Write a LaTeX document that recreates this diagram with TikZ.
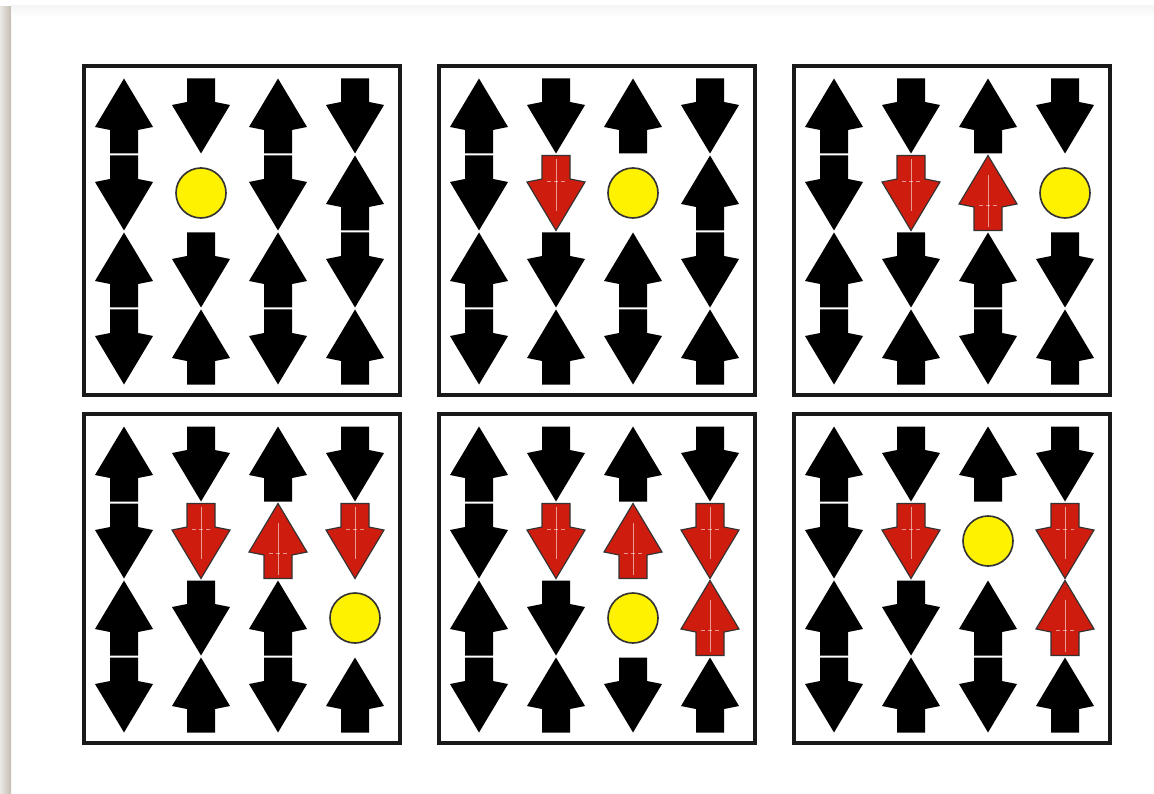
\documentclass[tikz,border=0pt]{standalone}
\usepackage{tikz}
\definecolor{flipred}{RGB}{206,28,14}
\definecolor{holeyellow}{RGB}{255,242,0}
\definecolor{edgebeige}{RGB}{196,188,178}

% one spin arrow, pointing up, centred on the cell
\def\spinpath{(0,-37.5) -- (29,11) -- (14,14) -- (14,37.5)
  -- (-14,37.5) -- (-14,14) -- (-29,11) -- cycle}

\begin{document}
\begin{tikzpicture}[
  x=0.03cm, y=-0.03cm,
  frame/.style={draw=black!90, line width=3.2pt, fill=white},
  flip/.style={fill=flipred, draw=black!80, line width=1pt},
  gleam/.style={draw=white, opacity=0.55, line width=0.6pt},
  dot/.style={fill=holeyellow, draw=black!80, line width=1.4pt},
  up/.pic={\fill[black] \spinpath;},
  dn/.pic={\fill[black, rotate=180] \spinpath;},
  rup/.pic={\filldraw[flip] \spinpath;
    \draw[gleam] (0,-18) -- (0,34);
    \draw[gleam, dashed] (-9,12) -- (9,12);},
  rdn/.pic={\begin{scope}[rotate=180]
    \filldraw[flip] \spinpath;
    \draw[gleam] (0,-18) -- (0,34);
    \draw[gleam, dashed] (-9,12) -- (9,12);
    \end{scope}},
  hole/.pic={\filldraw[dot] (0,0) circle (25);}
]
\useasboundingbox (0,0) rectangle (1154,794);
\fill[white] (0,0) rectangle (1154,794);
\shade[left color=edgebeige!35, right color=edgebeige] (0,7) rectangle (11,794);
\shade[top color=black!4, bottom color=white] (11,6) rectangle (1154,17);

% six panels, cells row by row
\foreach \px/\py/\cells in {
  84/66/{up,dn,up,dn, dn,hole,dn,up, up,dn,up,dn, dn,up,dn,up},
  439/66/{up,dn,up,dn, dn,rdn,hole,up, up,dn,up,dn, dn,up,dn,up},
  794/66/{up,dn,up,dn, dn,rdn,rup,hole, up,dn,up,dn, dn,up,dn,up},
  84/414/{up,dn,up,dn, dn,rdn,rup,rdn, up,dn,up,hole, dn,up,dn,up},
  439/414/{up,dn,up,dn, dn,rdn,rup,rdn, up,dn,hole,rup, dn,up,dn,up},
  794/414/{up,dn,up,dn, dn,rdn,hole,rdn, up,dn,up,rup, dn,up,dn,up}}
{
  \draw[frame] (\px,\py) rectangle ++(316,329);
  \foreach \c [count=\i from 0] in \cells
    \pic at ({\px+40+77*mod(\i,4)},{\py+50+77*int(\i/4)}) {\c};
}
\end{tikzpicture}
\end{document}
